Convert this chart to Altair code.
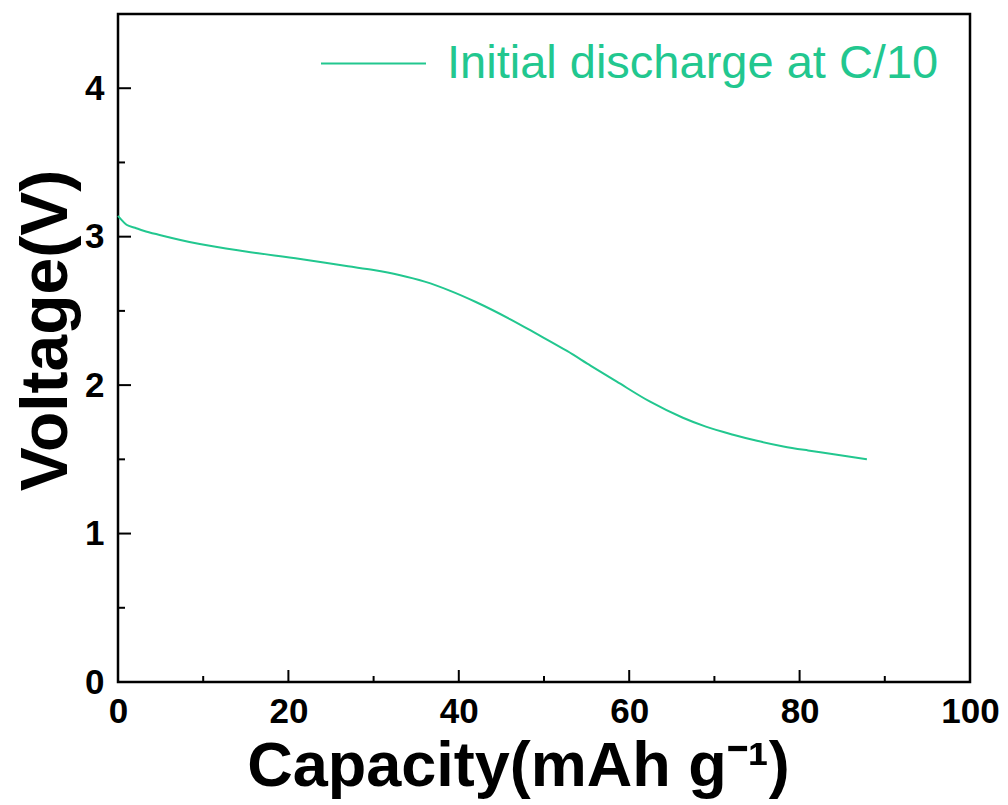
import altair as alt
import pandas as pd

# ---- data ----
capacity = [0, 0.3, 1, 2, 3, 5, 9.6, 15, 21.4, 27, 30, 33, 36, 39, 42, 46, 49,
            52.7, 55.5, 58.5, 62.4, 66.3, 69, 72.2, 75, 78.1, 81, 84, 87.9]
voltage = [3.14, 3.12, 3.08, 3.06, 3.04, 3.01, 2.95, 2.90, 2.85, 2.80, 2.775, 2.742,
           2.697, 2.635, 2.56, 2.445, 2.35, 2.23, 2.13, 2.025, 1.89, 1.78, 1.72,
           1.666, 1.625, 1.587, 1.56, 1.535, 1.50]
series_name = "Initial discharge at C/10"

x_major = [0, 20, 40, 60, 80, 100]
x_minor = [10, 30, 50, 70, 90]
y_major = [0, 1, 2, 3, 4]
y_minor = [0.5, 1.5, 2.5, 3.5]

GREEN = "#22C78F"
W, H = 852, 668
FONT = "Liberation Sans"

df = pd.DataFrame({"cap": capacity, "v": voltage, "s": [series_name] * len(capacity)})

xs = alt.Scale(domain=[0, 100], nice=False, zero=False)
ys = alt.Scale(domain=[0, 4.5], nice=False, zero=False)

line = alt.Chart(df).mark_line(strokeWidth=2, interpolate="monotone").encode(
    x=alt.X("cap:Q", scale=xs,
            axis=alt.Axis(values=x_major, format="d", title="Capacity(mAh g⁻¹)", ticks=False,
                          domain=False, grid=False, labelFont=FONT, labelFontWeight="bold",
                          labelFontSize=35, labelColor="black", labelPadding=12,
                          labelFlush=False,
                          titleFont=FONT, titleFontWeight="bold", titleFontSize=63,
                          titleColor="black", titleX=400, titleY=103,
                          titleBaseline="alphabetic", titleAlign="center")),
    y=alt.Y("v:Q", scale=ys,
            axis=alt.Axis(values=y_major, format="d", title="Voltage(V)", ticks=False,
                          domain=False, grid=False, labelFont=FONT, labelFontWeight="bold",
                          labelFontSize=35, labelColor="black", labelPadding=14,
                          labelFlush=False,
                          titleFont=FONT, titleFontWeight="bold", titleFontSize=66,
                          titleColor="black", titleAngle=-90, titleX=-52, titleY=316,
                          titleBaseline="alphabetic", titleAlign="center")),
    color=alt.Color("s:N", scale=alt.Scale(range=[GREEN]),
                    legend=alt.Legend(orient="none", legendX=202, legendY=-4, title=None,
                                      symbolType="stroke", symbolSize=11025,
                                      symbolStrokeWidth=2, labelFontSize=47,
                                      labelFont=FONT, labelColor=GREEN, labelOffset=20,
                                      labelLimit=0, padding=0)),
)

def xticks(vals, length):
    d = pd.DataFrame({"t": vals})
    return alt.Chart(d).mark_rule(color="black", strokeWidth=2).encode(
        x=alt.X("t:Q", scale=xs), y=alt.value(H), y2=alt.value(H - length))

def yticks(vals, length):
    d = pd.DataFrame({"t": vals})
    return alt.Chart(d).mark_rule(color="black", strokeWidth=2).encode(
        y=alt.Y("t:Q", scale=ys), x=alt.value(0), x2=alt.value(length))

chart = alt.layer(
    line,
    xticks(x_major, 12), xticks(x_minor, 6),
    yticks(y_major, 13), yticks(y_minor, 7),
).properties(
    width=W, height=H,
    autosize=alt.AutoSizeParams(type="none"),
    padding={"left": 118, "top": 14, "right": 38, "bottom": 123},
    background="white",
).configure_view(stroke="black", strokeWidth=2.5)

chart.save("out.html", embed_options={"renderer": "svg", "actions": False})
